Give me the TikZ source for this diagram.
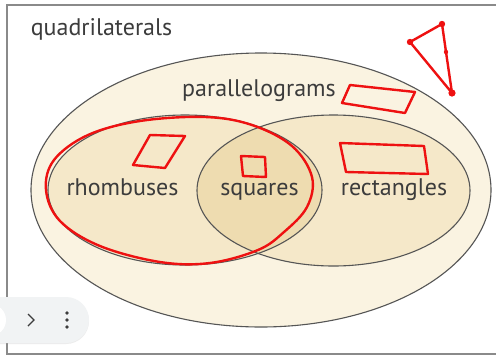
\documentclass[tikz,border=0pt]{standalone}
\usepackage{fontspec}
\setmainfont{PT Sans}
\usetikzlibrary{shadows,calc}
\definecolor{outerfill}{HTML}{FAF3E1}
\definecolor{innerfill}{HTML}{F5E8C9}
\definecolor{lensfill}{HTML}{EEDCB0}
\definecolor{edgegray}{HTML}{555555}
\definecolor{txtgray}{HTML}{3C3C3C}
\definecolor{framegray}{HTML}{8A8A8A}
\definecolor{ink}{HTML}{EE1111}
\definecolor{pill}{HTML}{F1F3F4}
\tikzset{
  setedge/.style={draw=edgegray, line width=1.1pt},
  lbl/.style={text=txtgray, font=\fontsize{24}{26}\selectfont, inner sep=0pt, anchor=base},
  redink/.style={draw=ink, line width=2.4pt, line join=round, line cap=round},
  reddot/.style={fill=ink, draw=none},
}
\begin{document}
\begin{tikzpicture}[x=1pt,y=-1pt]
\useasboundingbox (0,0) rectangle (496,360);
\fill[white] (0,0) rectangle (496,360);
% frame
\draw[framegray, line width=1.8pt] (496,5) -- (7,5) -- (7,354) -- (496,354);
% outer ellipse
\fill[outerfill] (261,190) ellipse [x radius=230, y radius=137];
\draw[setedge] (261,190) ellipse [x radius=230, y radius=137];
% inner ellipses
\fill[innerfill] (185,190) ellipse [x radius=137, y radius=75];
\fill[innerfill] (333.5,190.5) ellipse [x radius=136.5, y radius=75.5];
\begin{scope}
  \clip (185,190) ellipse [x radius=137, y radius=75];
  \fill[lensfill] (333.5,190.5) ellipse [x radius=136.5, y radius=75.5];
\end{scope}
\draw[setedge] (185,190) ellipse [x radius=137, y radius=75];
\draw[setedge] (333.5,190.5) ellipse [x radius=136.5, y radius=75.5];
% labels
\node[lbl] (quad) at (101.5,35) {quadrilaterals};
\node[lbl] (para) at (259,96) {parallelograms};
\node[lbl] (rhom) at (122.5,195) {rhombuses};
\node[lbl] (squa) at (259.5,195) {squares};
\node[lbl] (rect) at (394,195) {rectangles};
% red annotations
\draw[redink] plot[smooth cycle, tension=0.6] coordinates {
  (205,117) (252,125) (292,146) (312,177) (307,207) (284,232) (258,250)
  (210,263) (160,262) (100,246) (60,221) (46,190) (54,160) (88,135) (140,121)};
\draw[redink] (150,135) -- (185,136) -- (165,168) -- (133,165) -- cycle;
\draw[redink] (241,156) -- (265,157) -- (266,177) -- (243,176) -- cycle;
\draw[redink] (350,85) -- (415,92) -- (405,113) -- (342,103) -- cycle;
\draw[redink] (340,143) -- (424,146) -- (428,174) -- (346,172) -- cycle;
\draw[redink] (410,42) -- (442,24) -- (446,52) -- (452,93) -- cycle;
\fill[reddot] (410,42) circle (3.2);
\fill[reddot] (442,24) circle (3.2);
\fill[reddot] (452,93) circle (3.6);
\fill[reddot] (446,52) circle (2.2);
% UI overlay
\fill[pill, rounded corners=23pt, drop shadow={opacity=0.15, shadow xshift=0pt, shadow yshift=-1pt}]
  (-30,297) rectangle (89,343);
\fill[white] (-10,320) circle (16);
\draw[txtgray, line width=1.4pt] (28,314) -- (34,320) -- (28,326);
\fill[txtgray] (67,313) circle (1.9) (67,320) circle (1.9) (67,327) circle (1.9);
\end{tikzpicture}
\end{document}
